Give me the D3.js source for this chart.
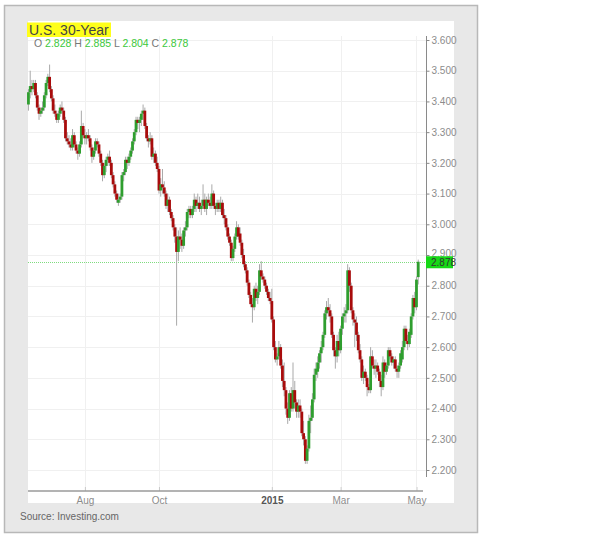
<!DOCTYPE html>
<html><head><meta charset="utf-8">
<script src="https://cdn.jsdelivr.net/npm/d3@7"></script>
<style>body{margin:0;background:#fff}svg{display:block;font-family:"Liberation Sans",Arial,sans-serif}</style>
</head><body><svg id="c" width="608" height="537"></svg>
<script>
// ---- data (US 30-Year yield, daily candles, 17 Jun 2014 – 4 May 2015) ----
const firstDay = "2014-06-17", lastDay = "2015-05-04";
const holidays = ["2014-07-04","2014-09-01","2014-11-27","2014-12-25","2015-01-01","2015-01-19","2015-02-16","2015-04-03"];
const open  = [3.39,3.43,3.45,3.44,3.46,3.42,3.38,3.36,3.37,3.38,3.42,3.46,3.48,3.44,3.41,3.37,3.36,3.34,3.36,3.38,3.37,3.34,3.28,3.27,3.26,3.25,3.29,3.26,3.24,3.23,3.26,3.32,
 3.29,3.28,3.29,3.28,3.25,3.22,3.24,3.27,3.26,3.23,3.20,3.16,3.19,3.21,3.22,3.20,3.16,3.13,3.10,3.07,3.08,
 3.09,3.16,3.17,3.21,3.20,3.22,3.24,3.27,3.30,3.34,3.33,3.34,3.36,3.37,3.32,3.28,3.27,3.28,3.22,3.23,3.20,
 3.18,3.11,3.13,3.12,3.10,3.06,3.08,3.04,3.02,2.99,2.96,2.91,2.96,2.95,2.93,2.98,2.99,3.04,3.05,3.03,3.05,3.08,3.06,
 3.07,3.05,3.06,3.08,3.05,3.08,3.07,3.06,3.10,3.06,3.05,3.07,3.05,3.07,3.03,3.02,2.99,2.96,2.94,
 2.89,2.92,2.96,2.99,2.97,2.94,2.90,2.87,2.85,2.81,2.77,2.74,2.73,2.79,2.76,2.78,2.85,2.83,2.82,2.80,2.78,2.76,
 2.75,2.69,2.60,2.56,2.57,2.60,2.54,2.49,2.46,2.40,2.37,2.45,2.40,2.46,2.42,2.39,2.41,2.39,2.32,2.30,
 2.23,2.27,2.36,2.37,2.43,2.51,2.52,2.55,2.58,2.60,2.64,2.71,2.73,2.72,2.70,2.64,2.59,2.57,2.62,
 2.59,2.66,2.70,2.71,2.72,2.85,2.80,2.72,2.69,2.68,2.64,2.59,2.56,2.50,2.52,2.50,2.47,2.46,2.57,2.54,2.53,2.54,
 2.52,2.49,2.47,2.55,2.52,2.54,2.59,2.57,2.55,2.56,2.53,2.52,2.54,2.56,2.60,2.66,2.62,2.61,2.64,2.70,2.76,
 2.73,2.828];
const high  = [3.44,3.50,3.47,3.47,3.47,3.43,3.39,3.38,3.40,3.43,3.47,3.49,3.52,3.45,3.42,3.39,3.37,3.37,3.39,3.40,3.38,3.35,3.30,3.29,3.28,3.31,3.30,3.27,3.25,3.27,3.37,3.33,
 3.31,3.30,3.31,3.29,3.26,3.25,3.28,3.28,3.27,3.24,3.21,3.20,3.22,3.23,3.24,3.21,3.17,3.14,3.11,3.10,3.10,
 3.17,3.18,3.22,3.22,3.23,3.25,3.28,3.31,3.35,3.35,3.35,3.37,3.39,3.38,3.33,3.29,3.30,3.29,3.25,3.24,3.22,
 3.19,3.15,3.18,3.14,3.11,3.10,3.09,3.05,3.03,3.00,2.99,2.98,2.99,2.97,2.99,3.01,3.05,3.06,3.06,3.06,3.10,3.09,3.10,
 3.09,3.08,3.13,3.10,3.09,3.10,3.09,3.13,3.11,3.07,3.08,3.08,3.09,3.08,3.05,3.03,3.00,2.97,2.95,
 2.93,2.97,3.01,3.00,2.99,2.95,2.92,2.88,2.86,2.82,2.78,2.76,2.80,2.81,2.80,2.87,2.88,2.84,2.83,2.81,2.79,2.78,
 2.79,2.70,2.62,2.58,2.62,2.61,2.56,2.55,2.47,2.42,2.46,2.47,2.55,2.49,2.43,2.43,2.43,2.40,2.36,2.31,
 2.28,2.38,2.41,2.45,2.53,2.55,2.57,2.59,2.62,2.65,2.72,2.75,2.76,2.74,2.71,2.65,2.60,2.64,2.65,
 2.67,2.71,2.73,2.74,2.87,2.86,2.81,2.73,2.71,2.70,2.65,2.61,2.57,2.54,2.53,2.51,2.48,2.60,2.59,2.56,2.56,2.55,
 2.53,2.51,2.57,2.56,2.55,2.60,2.60,2.58,2.57,2.57,2.54,2.55,2.59,2.62,2.67,2.67,2.64,2.66,2.71,2.77,2.78,
 2.83,2.885];
const low   = [3.37,3.41,3.42,3.43,3.41,3.37,3.34,3.35,3.36,3.37,3.41,3.45,3.43,3.40,3.36,3.35,3.33,3.33,3.35,3.36,3.33,3.27,3.26,3.25,3.24,3.24,3.25,3.23,3.21,3.22,3.25,3.28,
 3.26,3.26,3.27,3.24,3.20,3.21,3.23,3.25,3.22,3.19,3.14,3.15,3.17,3.19,3.19,3.15,3.12,3.09,3.07,3.06,3.07,
 3.08,3.14,3.16,3.18,3.19,3.21,3.23,3.26,3.29,3.31,3.30,3.32,3.34,3.31,3.27,3.25,3.26,3.21,3.20,3.19,3.17,
 3.10,3.09,3.10,3.09,3.05,3.04,3.03,3.01,2.98,2.94,2.67,2.88,2.92,2.91,2.92,2.96,2.98,3.02,3.02,3.02,3.04,3.04,3.05,
 3.04,3.03,3.05,3.04,3.03,3.06,3.05,3.05,3.05,3.03,3.04,3.04,3.04,3.02,3.00,2.98,2.95,2.93,2.88,
 2.88,2.91,2.95,2.95,2.93,2.89,2.86,2.84,2.80,2.76,2.73,2.68,2.72,2.75,2.74,2.77,2.82,2.81,2.79,2.77,2.75,2.74,
 2.68,2.59,2.55,2.54,2.56,2.53,2.47,2.44,2.38,2.35,2.36,2.39,2.39,2.40,2.37,2.37,2.37,2.31,2.28,2.22,
 2.22,2.26,2.32,2.36,2.42,2.49,2.50,2.53,2.55,2.59,2.63,2.69,2.70,2.68,2.63,2.57,2.53,2.55,2.57,
 2.58,2.64,2.68,2.68,2.71,2.78,2.71,2.67,2.60,2.62,2.58,2.55,2.49,2.48,2.49,2.44,2.45,2.45,2.53,2.51,2.50,2.51,
 2.47,2.44,2.46,2.50,2.51,2.53,2.56,2.54,2.53,2.52,2.50,2.50,2.53,2.55,2.59,2.61,2.59,2.60,2.63,2.69,2.71,
 2.72,2.804];
const close = [3.43,3.45,3.44,3.46,3.42,3.38,3.36,3.37,3.38,3.42,3.46,3.48,3.44,3.41,3.37,3.36,3.34,3.36,3.38,3.37,3.34,3.28,3.27,3.26,3.25,3.29,3.26,3.24,3.23,3.26,3.32,3.29,
 3.28,3.29,3.28,3.25,3.22,3.24,3.27,3.26,3.23,3.20,3.16,3.19,3.21,3.22,3.20,3.16,3.13,3.10,3.08,3.08,3.09,
 3.16,3.17,3.21,3.20,3.22,3.24,3.27,3.30,3.34,3.33,3.34,3.36,3.37,3.32,3.28,3.27,3.28,3.22,3.23,3.20,3.18,
 3.11,3.13,3.12,3.10,3.06,3.08,3.04,3.02,2.99,2.96,2.91,2.96,2.95,2.93,2.98,2.99,3.04,3.05,3.03,3.05,3.08,3.06,3.07,
 3.05,3.06,3.08,3.05,3.08,3.07,3.06,3.10,3.06,3.05,3.07,3.05,3.07,3.03,3.02,2.99,2.96,2.94,2.89,
 2.92,2.96,2.99,2.96,2.94,2.90,2.87,2.85,2.81,2.77,2.74,2.73,2.79,2.76,2.78,2.85,2.83,2.82,2.80,2.78,2.76,2.75,
 2.69,2.60,2.56,2.57,2.60,2.54,2.49,2.46,2.40,2.37,2.45,2.40,2.46,2.42,2.39,2.41,2.39,2.32,2.30,2.23,
 2.27,2.36,2.37,2.43,2.51,2.53,2.55,2.58,2.60,2.64,2.71,2.73,2.72,2.70,2.64,2.59,2.57,2.62,2.59,
 2.66,2.70,2.71,2.72,2.85,2.80,2.72,2.69,2.68,2.64,2.59,2.56,2.50,2.52,2.50,2.47,2.46,2.57,2.54,2.53,2.54,2.52,
 2.49,2.47,2.55,2.52,2.54,2.59,2.57,2.55,2.56,2.53,2.52,2.54,2.58,2.60,2.66,2.62,2.61,2.65,2.70,2.76,2.73,
 2.82,2.878];
const yTicks = [2.2,2.3,2.4,2.5,2.6,2.7,2.8,2.9,3.0,3.1,3.2,3.3,3.4,3.5,3.6];
const xTickDates  = ["2014-08-01","2014-10-01","2015-01-02","2015-03-02","2015-05-01"];
const xTickLabels = ["Aug","Oct","2015","Mar","May"];
const title = "U.S. 30-Year";
const source = "Source: Investing.com";

// ---- trading days ----
const fmt = d3.utcFormat("%Y-%m-%d");
const dates = [];
for (let d = new Date(firstDay + "T00:00:00Z"); fmt(d) <= lastDay; d = d3.utcDay.offset(d, 1)) {
  const wd = d.getUTCDay();
  if (wd === 0 || wd === 6 || holidays.includes(fmt(d))) continue;
  dates.push(fmt(d));
}
const data = dates.map((d, i) => ({d, i, o: open[i], h: high[i], l: low[i], c: close[i]}));

const svg = d3.select("#c");
// frame
svg.append("rect").attr("x",4.5).attr("y",5.5).attr("width",473).attr("height",527)
   .attr("fill","#e8e8e8").attr("stroke","#b8b8b8").attr("stroke-width",1.5);
svg.append("rect").attr("x",28).attr("y",21).attr("width",426).attr("height",482).attr("fill","#fff");

const x = d3.scaleLinear().domain([-0.25, 223.7]).range([28, 423]);
const y = d3.scaleLinear().domain([2.2, 3.6]).range([470, 40]);

// grid
const tickIdx = xTickDates.map(t => dates.indexOf(t));
svg.append("g").selectAll("line").data(yTicks).join("line")
  .attr("x1",28).attr("x2",426).attr("y1",d=>Math.round(y(d))+0.5).attr("y2",d=>Math.round(y(d))+0.5)
  .attr("stroke","#f0f0f0");
svg.append("g").selectAll("line").data(tickIdx).join("line")
  .attr("x1",d=>Math.round(x(d))+0.5).attr("x2",d=>Math.round(x(d))+0.5).attr("y1",36).attr("y2",487)
  .attr("stroke","#f0f0f0");

// last price dotted line
const last = data[data.length-1];
svg.append("line").attr("x1",28).attr("x2",426)
  .attr("y1",Math.round(y(last.c))+0.5).attr("y2",Math.round(y(last.c))+0.5)
  .attr("stroke","#7fdc7f").attr("stroke-dasharray","1,1");

// candles
const g = svg.append("g");
g.selectAll("line.w").data(data).join("line").attr("class","w")
  .attr("x1",d=>x(d.i)).attr("x2",d=>x(d.i)).attr("y1",d=>y(d.h)).attr("y2",d=>y(d.l))
  .attr("stroke","#a9a9a9").attr("stroke-width",1);
g.selectAll("rect").data(data).join("rect")
  .attr("x",d=>x(d.i)-1.4).attr("width",2.8)
  .attr("y",d=>y(Math.max(d.o,d.c)))
  .attr("height",d=>Math.max(1, Math.abs(y(d.o)-y(d.c))))
  .attr("fill",d=>d.c>=d.o ? "#2f9e2f" : "#a80c0c");

// y axis
const yAxis = d3.axisRight(y).tickValues(yTicks).tickFormat(d3.format(".3f")).tickSize(3).tickPadding(2);
const ya = svg.append("g").attr("transform","translate(426.5,0)").call(yAxis);
ya.select(".domain").remove();
ya.append("line").attr("x1",0).attr("x2",0).attr("y1",36).attr("y2",477).attr("stroke","#8a8a8a");
ya.selectAll(".tick line").attr("stroke","#8a8a8a");
ya.selectAll(".tick text").attr("fill","#8c8c8c").attr("font-size",10).attr("font-family","Liberation Sans, Arial")
  .attr("dy", d => Math.abs(d-2.9) < 1e-9 ? "0.1em" : "0.32em");

// last price tag
const ly = y(last.c);
svg.append("rect").attr("x",426).attr("y",ly-5.5).attr("width",27).attr("height",12).attr("fill","#16d916");
svg.append("text").attr("x",431).attr("y",ly+4).attr("font-size",10).attr("fill","#333")
  .text(d3.format(".3f")(last.c));

// x axis
const xAxis = d3.axisBottom(x).tickValues(tickIdx).tickFormat((d,i)=>xTickLabels[i]).tickSize(0).tickPadding(6);
const xa = svg.append("g").attr("transform","translate(0,491)").call(xAxis);
xa.select(".domain").remove();
xa.append("line").attr("x1",28).attr("x2",423).attr("stroke","#9a9a9a").attr("stroke-width",1.5);
xa.selectAll(".tick").append("line").attr("y1",-4).attr("y2",0).attr("stroke","#c8c8c8");
xa.selectAll(".tick text").attr("font-size",10)
  .attr("font-weight",(d,i)=>xTickLabels[i]==="2015"?"bold":"normal")
  .attr("fill",(d,i)=>xTickLabels[i]==="2015"?"#555":"#8c8c8c");

// title
svg.append("rect").attr("x",27).attr("y",22.5).attr("width",84).attr("height",14.5).attr("fill","#ffff1a");
svg.append("text").attr("x",29).attr("y",35).attr("font-size",14).attr("fill","#444").text(title);

// OHLC line
const ohlc = svg.append("text").attr("x",34).attr("y",47).attr("font-size",10.5);
[["O ",last.o],[" H ",last.h],[" L ",last.l],[" C ",last.c]].forEach(([k,v])=>{
  ohlc.append("tspan").attr("fill","#777").text(k);
  ohlc.append("tspan").attr("fill","#3cc83c").text(d3.format(".3f")(v));
});

// source
svg.append("text").attr("x",20).attr("y",520).attr("font-size",10).attr("fill","#666").text(source);
</script></body></html>
